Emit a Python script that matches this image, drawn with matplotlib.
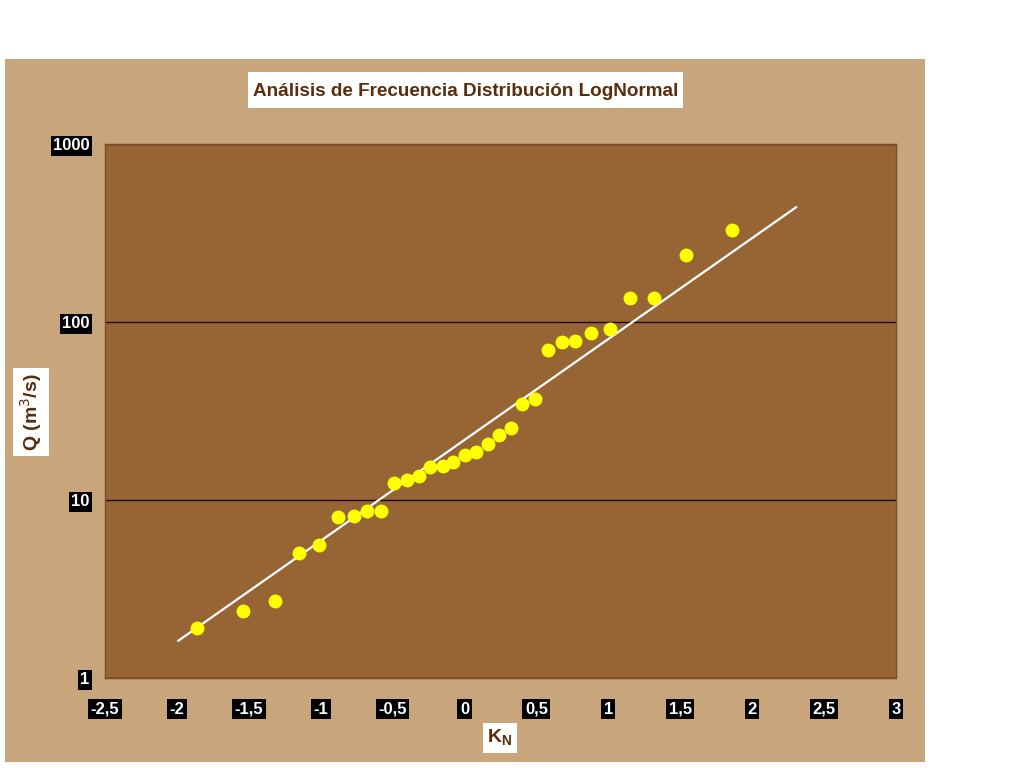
import matplotlib
matplotlib.use("Agg")
import matplotlib.pyplot as plt
from matplotlib.patches import Rectangle
from matplotlib.ticker import FixedLocator, NullLocator

# Data
kn = [-1.86, -1.54, -1.32, -1.15, -1.01, -0.88, -0.77, -0.675, -0.58, -0.49,
      -0.40, -0.32, -0.24, -0.15, -0.077, 0.0, 0.08, 0.16, 0.24, 0.32,
      0.40, 0.49, 0.58, 0.675, 0.77, 0.88, 1.01, 1.15, 1.32, 1.54, 1.86]
q = [1.91, 2.38, 2.71, 5.05, 5.6, 8.05, 8.16, 8.7, 8.7, 12.4,
     13.0, 13.7, 15.4, 15.6, 16.4, 17.8, 18.7, 20.7, 23.3, 25.5,
     34.8, 36.7, 69.2, 76.8, 77.8, 86.3, 90.8, 137, 137, 237, 328]
line_k = [-1.99, 2.305]
line_q = [1.62, 441]

x_ticks = [-2.5, -2, -1.5, -1, -0.5, 0, 0.5, 1, 1.5, 2, 2.5, 3]
x_tick_labels = ["-2,5", "-2", "-1,5", "-1", "-0,5", "0", "0,5", "1", "1,5", "2", "2,5", "3"]
y_ticks = [1, 10, 100, 1000]
y_tick_labels = ["1", "10", "100", "1000"]

title = "Análisis de Frecuencia Distribución LogNormal"

W, H = 1024, 768
fig = plt.figure(figsize=(W / 100, H / 100), dpi=100)
fig.patch.set_facecolor("white")

# textured-paper background region (solid tan approximation)
fig.add_artist(Rectangle((5 / W, 1 - 762 / H), 920 / W, (762 - 59) / H,
                         transform=fig.transFigure, facecolor="#C8A57B",
                         edgecolor="none", zorder=0))
# white title box
fig.add_artist(Rectangle((248 / W, 1 - 108 / H), (683 - 248) / W, 36 / H,
                         transform=fig.transFigure, facecolor="white",
                         edgecolor="none", zorder=1))

ax = fig.add_axes([105 / W, 1 - 678 / H, (896 - 105) / W, (678 - 144) / H])
ax.set_facecolor("#976434")
ax.set_yscale("log")
ax.set_xlim(-2.5, 3)
ax.set_ylim(1, 1000)

ax.yaxis.set_major_locator(FixedLocator(y_ticks))
ax.yaxis.set_minor_locator(NullLocator())
ax.set_yticks(y_ticks)
ax.set_yticklabels(y_tick_labels)
ax.set_xticks(x_ticks)
ax.set_xticklabels(x_tick_labels)

ax.grid(axis="y", which="major", color="#1a0d00", linewidth=1.0)
ax.set_axisbelow(True)
ax.tick_params(length=0)
ax.tick_params(axis="x", pad=17)
ax.tick_params(axis="y", pad=11)

box = dict(boxstyle="square,pad=0.15", facecolor="black", edgecolor="none")
for lab in ax.get_xticklabels() + ax.get_yticklabels():
    lab.set_color("white")
    lab.set_fontweight("bold")
    lab.set_fontsize(12)
    lab.set_bbox(box)
    lab.set_family("Liberation Sans")

for s in ax.spines.values():
    s.set_color("#7a4e26")
    s.set_linewidth(1.0)

ax.plot(line_k, line_q, color="white", linewidth=1.6, zorder=3)
ax.plot(kn, q, linestyle="none", marker="o", markersize=9,
        markerfacecolor="#FFFF00", markeredgecolor="#FFFF00", zorder=4)

wbox = dict(boxstyle="square,pad=0.25", facecolor="white", edgecolor="none")
fig.text(465.5 / W, 1 - 91 / H, title, ha="center", va="center",
         fontsize=13.6, fontweight="bold", color="#5A2D0C",
         family="Liberation Sans", zorder=2)
fig.text(31 / W, 1 - 412 / H, "Q (m$^3$/s)", ha="center", va="center",
         rotation=90, fontsize=14, fontweight="bold", color="#5A2D0C",
         family="Liberation Sans", bbox=wbox)
fig.text(500 / W, 1 - 738 / H, "K$_\\mathregular{N}$", ha="center", va="center",
         fontsize=14, fontweight="bold", color="#5A2D0C",
         family="Liberation Sans", bbox=wbox)

fig.savefig("out.png", dpi=100, facecolor=fig.get_facecolor())
